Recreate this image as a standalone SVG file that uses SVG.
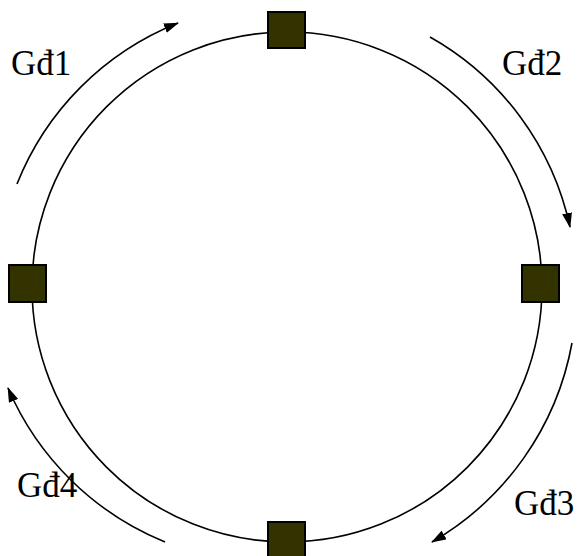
<svg xmlns="http://www.w3.org/2000/svg" width="577" height="556" viewBox="0 0 577 556">
<style>
.node{fill:#333300;stroke:#000;stroke-width:2}
.ring{fill:none;stroke:#000;stroke-width:1.6}
.arc{fill:none;stroke:#000;stroke-width:1.6;marker-end:url(#ah)}
.lbl{font-family:"Liberation Serif","Times New Roman",serif;font-size:35px;fill:#000}
</style>
<defs>
<marker id="ah" viewBox="0 0 15 10" refX="14" refY="5" markerWidth="15" markerHeight="10" markerUnits="userSpaceOnUse" orient="auto">
<path d="M0,0 L15,5 L0,10 z" fill="#000"/>
</marker>
</defs>
<rect width="577" height="556" fill="#fff"/>
<g id="connectors">
<circle class="ring" cx="287" cy="287" r="255"/>
<path class="arc" d="M17,184 A288,288 0 0 1 178,23"/>
<path class="arc" d="M430,37 A288,288 0 0 1 570,227"/>
<path class="arc" d="M572,343 A290,290 0 0 1 432,542"/>
<path class="arc" d="M165,542 A290,290 0 0 1 8,388"/>
</g>
<g id="node-top"><rect class="node" x="268" y="12" width="37" height="36"/></g>
<g id="node-left"><rect class="node" x="9" y="265" width="37" height="37"/></g>
<g id="node-right"><rect class="node" x="522" y="265" width="37" height="37"/></g>
<g id="node-bottom"><rect class="node" x="268" y="522" width="37" height="36"/></g>
<g id="labels">
<text class="lbl" x="11" y="75">Gđ1</text>
<text class="lbl" x="502" y="75">Gđ2</text>
<text class="lbl" x="514" y="515">Gđ3</text>
<text class="lbl" x="17" y="497">Gđ4</text>
</g>
</svg>
